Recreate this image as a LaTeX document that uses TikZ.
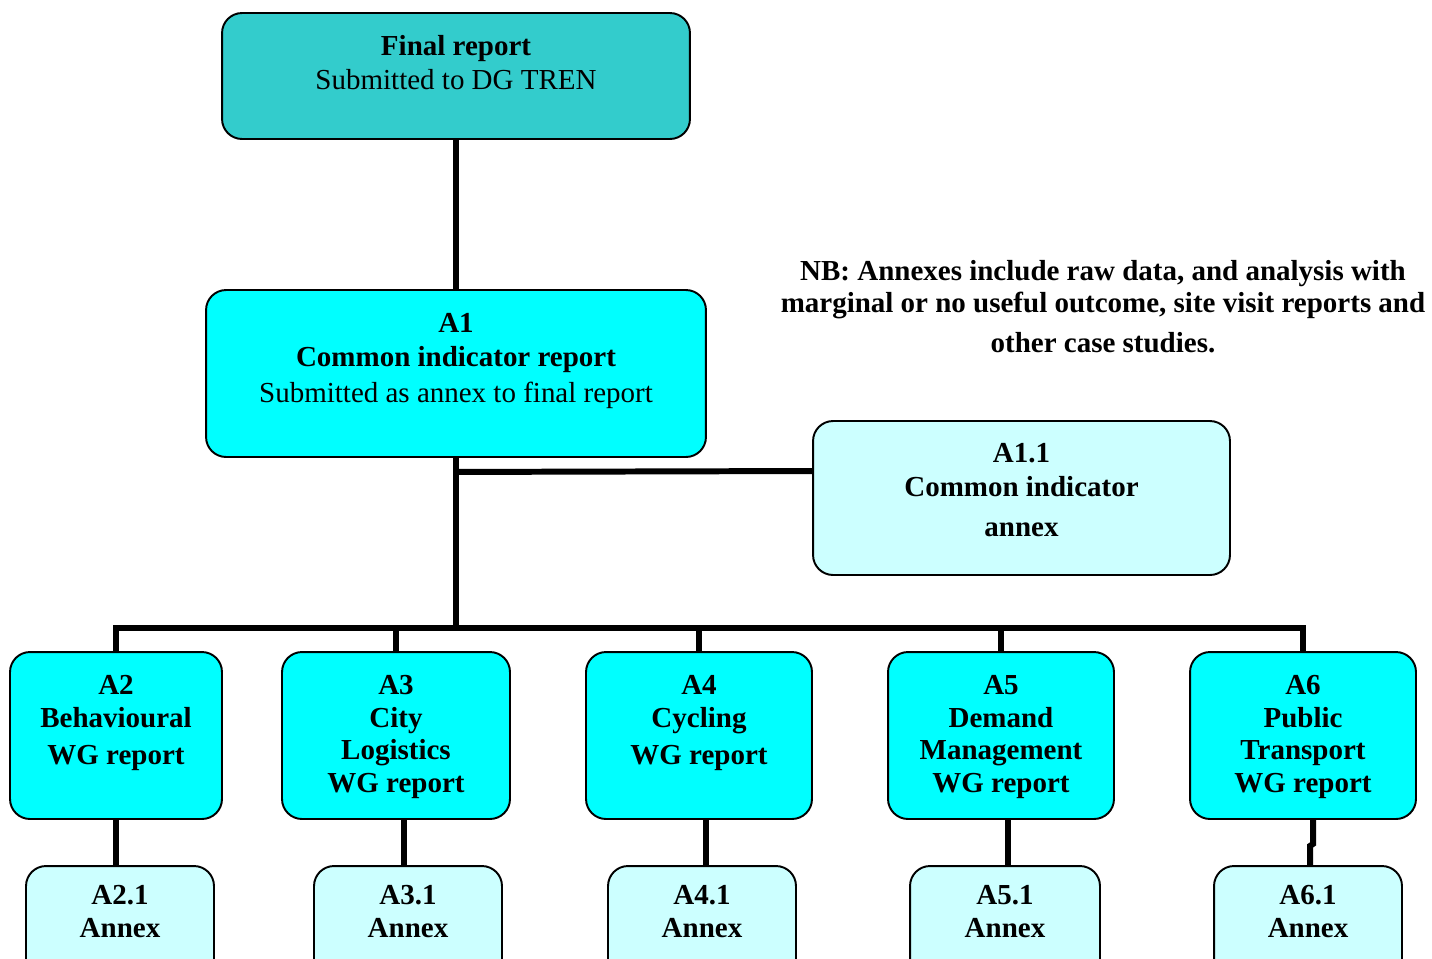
\documentclass[tikz,border=0pt]{standalone}
\usepackage{fontspec}
\setmainfont{Liberation Serif}
\usetikzlibrary{calc}
\definecolor{finalfill}{HTML}{33CCCC}
\definecolor{reportfill}{HTML}{00FFFF}
\definecolor{annexfill}{HTML}{CCFFFF}

\begin{document}
\begin{tikzpicture}[x=0.02cm,y=-0.02cm,
  box/.style={draw,line width=1.1pt,rounded corners=0.4cm,inner sep=0pt},
  txt/.style={anchor=north,align=center,inner sep=0pt,font=\fontsize{16.5}{19.5}\selectfont},
  btxt/.style={txt,font=\bfseries\fontsize{16.5}{18.5}\selectfont},
  link/.style={line width=3.4pt}]
\clip (0,0) rectangle (1432,958);
\useasboundingbox (0,0) rectangle (1432,958);
\node[box,fill=finalfill,minimum width=9.36cm,minimum height=2.52cm] (fin) at (456,76) {};
\node[txt] (fintxt) at (456,35) {\textbf{Final report}\\Submitted to DG TREN};
\node[box,fill=reportfill,minimum width=10cm,minimum height=3.34cm] (a1) at (456,373.5) {};
\node[txt] (a1txt) at (456,313) {\textbf{A1}\\\textbf{Common indicator report}\\[1pt]Submitted as annex to final report};
\node[box,fill=annexfill,minimum width=8.34cm,minimum height=3.08cm] (a11) at (1021.5,498) {};
\node[btxt,font=\bfseries\fontsize{16.5}{19.5}\selectfont] (a11txt) at (1021.5,443) {A1.1\\Common indicator\\[3pt]annex};
\node[btxt] (nb) at (1103,260) {NB: Annexes include raw data, and analysis with\\marginal or no useful outcome, site visit reports and\\[4pt]other case studies.};
\node[box,fill=reportfill,minimum width=4.24cm,minimum height=3.34cm] (a2) at (116,735.5) {};
\node[btxt] (a2txt) at (116,675) {A2\\Behavioural\\[3pt]WG report};
\node[box,fill=reportfill,minimum width=4.56cm,minimum height=3.34cm] (a3) at (396,735.5) {};
\node[btxt] (a3txt) at (396,675) {A3\\City\\Logistics\\WG report};
\node[box,fill=reportfill,minimum width=4.52cm,minimum height=3.34cm] (a4) at (699,735.5) {};
\node[btxt] (a4txt) at (699,675) {A4\\Cycling\\[3pt]WG report};
\node[box,fill=reportfill,minimum width=4.52cm,minimum height=3.34cm] (a5) at (1001,735.5) {};
\node[btxt] (a5txt) at (1001,675) {A5\\Demand\\Management\\WG report};
\node[box,fill=reportfill,minimum width=4.52cm,minimum height=3.34cm] (a6) at (1303,735.5) {};
\node[btxt] (a6txt) at (1303,675) {A6\\Public\\Transport\\WG report};
\node[box,fill=annexfill,minimum width=3.76cm,minimum height=2.48cm] (a21) at (120,928) {};
\node[btxt] (a21txt) at (120,885) {A2.1\\Annex};
\node[box,fill=annexfill,minimum width=3.76cm,minimum height=2.48cm] (a31) at (408,928) {};
\node[btxt] (a31txt) at (408,885) {A3.1\\Annex};
\node[box,fill=annexfill,minimum width=3.76cm,minimum height=2.48cm] (a41) at (702,928) {};
\node[btxt] (a41txt) at (702,885) {A4.1\\Annex};
\node[box,fill=annexfill,minimum width=3.8cm,minimum height=2.48cm] (a51) at (1005,928) {};
\node[btxt] (a51txt) at (1005,885) {A5.1\\Annex};
\node[box,fill=annexfill,minimum width=3.76cm,minimum height=2.48cm] (a61) at (1308,928) {};
\node[btxt] (a61txt) at (1308,885) {A6.1\\Annex};
\draw[link] (fin.south) -- (a1.north);
\draw[link] (a1.south) -- ++(0,170) coordinate (bus);
\draw[link] ($(a1.south)+(0,14)$) -- ($(a11.west)+(0,-27)$);
\draw[link] (a2.north) -- (a2.north |- bus) -- (a6.north |- bus) -- (a6.north);
\draw[link] (a3.north) -- (a3.north |- bus);
\draw[link] (a4.north) -- (a4.north |- bus);
\draw[link] (a5.north) -- (a5.north |- bus);
\draw[link] (a2.south) -- (a2.south |- a21.north);
\draw[link] ($(a3.south)+(8,0)$) -- ($(a3.south |- a31.north)+(8,0)$);
\draw[link] ($(a4.south)+(7,0)$) -- ($(a4.south |- a41.north)+(7,0)$);
\draw[link] ($(a5.south)+(7,0)$) -- ($(a5.south |- a51.north)+(7,0)$);
\draw[link] ($(a6.south)+(10,0)$) -- ++(0,24) -- ++(-3,2) -- ($(a61.north)+(2,0)$);
\end{tikzpicture}
\end{document}
